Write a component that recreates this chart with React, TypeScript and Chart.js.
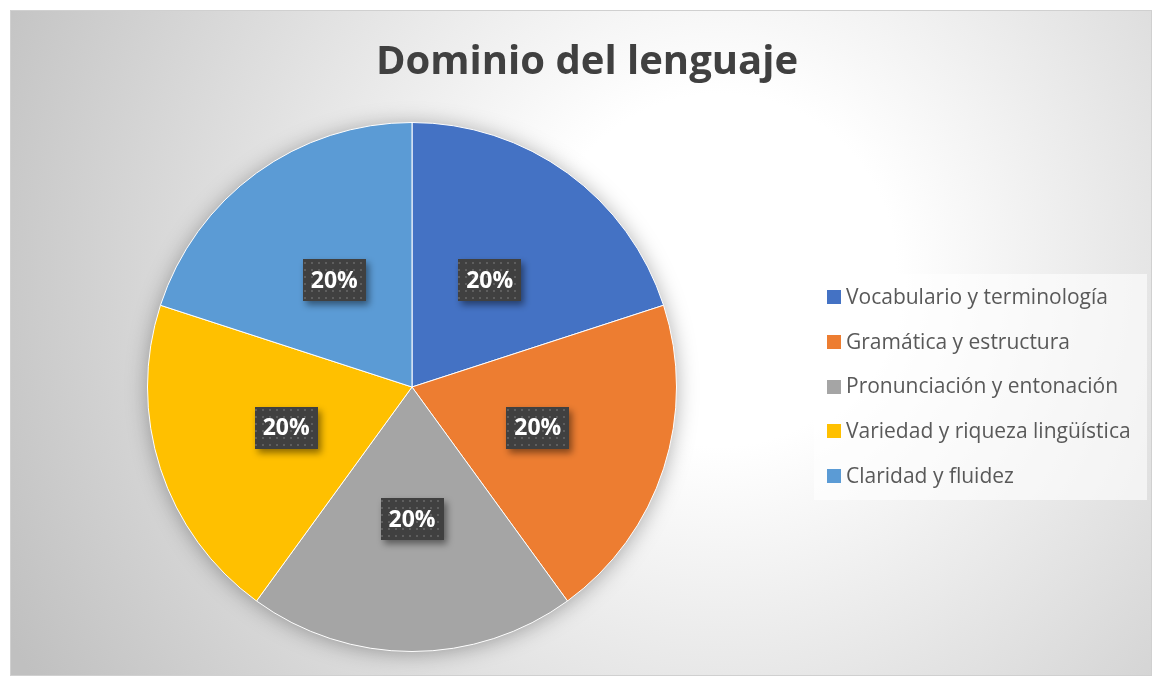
import React, { useEffect, useRef } from 'react';
import { Chart, registerables } from 'chart.js';

Chart.register(...registerables);

const TITLE = 'Dominio del lenguaje';
const categories = [
  'Vocabulario y terminología',
  'Gramática y estructura',
  'Pronunciación y entonación',
  'Variedad y riqueza lingüística',
  'Claridad y fluidez',
];
const values = [20, 20, 20, 20, 20];
const colors = ['#4472C4', '#ED7D31', '#A5A5A5', '#FFC000', '#5B9BD5'];

const W = 1152;
const H = 676;

function makePattern(ctx: CanvasRenderingContext2D) {
  const c = document.createElement('canvas');
  c.width = 7;
  c.height = 7;
  const p = c.getContext('2d')!;
  p.fillStyle = '#404040';
  p.fillRect(0, 0, 7, 7);
  p.fillStyle = '#5e5e5e';
  p.fillRect(3, 3, 2, 2);
  return ctx.createPattern(c, 'repeat');
}

const decorPlugin = {
  id: 'decor',
  beforeDraw(chart: any) {
    const ctx: CanvasRenderingContext2D = chart.ctx;
    ctx.save();
    ctx.fillStyle = '#ffffff';
    ctx.fillRect(0, 0, W, H);
    const g = ctx.createRadialGradient(720, 270, 0, 720, 270, 800);
    g.addColorStop(0, '#ffffff');
    g.addColorStop(0.22, '#ffffff');
    g.addColorStop(1, '#c0c0c0');
    ctx.fillStyle = g;
    ctx.fillRect(10, 10, W - 10, H - 10);
    ctx.strokeStyle = '#d0d0d0';
    ctx.lineWidth = 1;
    ctx.strokeRect(10.5, 10.5, W - 11, H - 11);
    ctx.fillStyle = '#404040';
    ctx.font = 'bold 40px "Open Sans"';
    ctx.textAlign = 'center';
    ctx.textBaseline = 'alphabetic';
    ctx.fillText(TITLE, 587, 74);
    ctx.restore();
  },
  beforeDatasetsDraw(chart: any) {
    const ctx: CanvasRenderingContext2D = chart.ctx;
    const arc = chart.getDatasetMeta(0).data[0];
    if (!arc) return;
    const { x, y, outerRadius } = arc.getProps(['x', 'y', 'outerRadius'], true);
    ctx.save();
    ctx.shadowColor = 'rgba(0,0,0,0.35)';
    ctx.shadowBlur = 22;
    ctx.shadowOffsetX = 0;
    ctx.shadowOffsetY = 2;
    ctx.fillStyle = '#a0a0a0';
    ctx.beginPath();
    ctx.arc(x, y, outerRadius - 1, 0, Math.PI * 2);
    ctx.fill();
    ctx.restore();
  },
  afterDatasetsDraw(chart: any) {
    const ctx: CanvasRenderingContext2D = chart.ctx;
    const meta = chart.getDatasetMeta(0);
    const data: number[] = chart.data.datasets[0].data;
    const total = data.reduce((a, b) => a + b, 0);
    const pattern = makePattern(ctx);
    meta.data.forEach((arc: any, i: number) => {
      const pos = arc.getCenterPoint();
      const label = Math.round((data[i] / total) * 100) + '%';
      const bw = 63;
      const bh = 42;
      const bx = Math.round(pos.x - bw / 2);
      const by = Math.round(pos.y - bh / 2);
      ctx.save();
      ctx.shadowColor = 'rgba(0,0,0,0.45)';
      ctx.shadowBlur = 7;
      ctx.shadowOffsetX = 3;
      ctx.shadowOffsetY = 4;
      ctx.fillStyle = pattern || '#404040';
      ctx.fillRect(bx, by, bw, bh);
      ctx.restore();
      ctx.save();
      ctx.fillStyle = '#ffffff';
      ctx.font = 'bold 23px "Open Sans"';
      ctx.textAlign = 'center';
      ctx.textBaseline = 'middle';
      ctx.fillText(label, pos.x, pos.y + 1);
      ctx.restore();
    });
  },
  afterDraw(chart: any) {
    const ctx: CanvasRenderingContext2D = chart.ctx;
    ctx.save();
    ctx.fillStyle = 'rgba(255,255,255,0.6)';
    ctx.fillRect(814, 274, 333, 226);
    const labels: string[] = chart.data.labels;
    const bg: string[] = chart.data.datasets[0].backgroundColor;
    labels.forEach((lab, i) => {
      const cy = 297 + i * 44.75;
      ctx.fillStyle = bg[i];
      ctx.fillRect(827, Math.round(cy - 7), 14, 14);
      ctx.fillStyle = '#595959';
      ctx.font = '21px "Open Sans"';
      ctx.textAlign = 'left';
      ctx.textBaseline = 'middle';
      ctx.fillText(lab, 846, cy + 1);
    });
    ctx.restore();
  },
};

export default function App() {
  const ref = useRef<HTMLCanvasElement | null>(null);
  useEffect(() => {
    if (!ref.current) return;
    const chart = new Chart(ref.current, {
      type: 'pie',
      data: {
        labels: categories,
        datasets: [
          {
            data: values,
            backgroundColor: colors,
            borderColor: '#ffffff',
            borderWidth: 1,
          },
        ],
      },
      options: {
        responsive: false,
        animation: false,
        layout: { padding: { left: 147, right: 475, top: 122, bottom: 24 } },
        plugins: {
          legend: { display: false },
          title: { display: false },
          tooltip: { enabled: false },
        },
      },
      plugins: [decorPlugin as any],
    });
    return () => chart.destroy();
  }, []);
  return (
    <div style={{ position: 'fixed', left: 0, top: 0, width: W, height: H }}>
      <canvas ref={ref} width={W} height={H} style={{ display: 'block' }} />
    </div>
  );
}
